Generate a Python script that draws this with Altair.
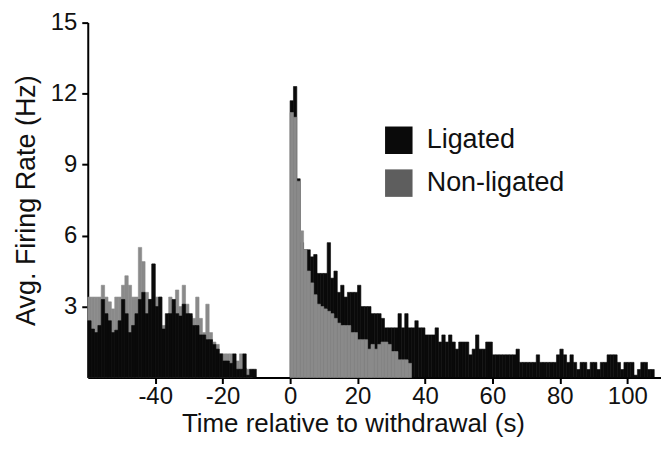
import altair as alt
import pandas as pd

# ---- data (1 s bins, left edges) ----
pre_time = list(range(-60, -9))  # -60 .. -10
pre_ligated = [2.4, 2.05, 1.9, 2.2, 3.3, 2.7, 2.4, 1.9, 2.0, 2.4,
               3.3, 2.7, 1.9, 2.2, 2.7, 3.3, 3.6, 2.7, 3.3, 4.8,
               3.0, 3.4, 2.05, 2.7, 2.7, 3.3, 2.7, 2.6, 3.1, 2.7,
               2.7, 2.2, 2.2, 1.8, 1.8, 1.6, 1.6, 1.4, 1.2, 1.0,
               0.7, 0.7, 0.6, 1.0, 0.35, 0.35, 1.0, 0.1, 0.35, 0.35,
               0.0]
pre_nonligated = [3.4, 3.4, 3.4, 3.4, 3.9, 3.4, 3.2, 2.9, 3.4, 3.4,
                  3.9, 4.3, 3.9, 3.4, 3.4, 5.5, 4.9, 3.6, 3.3, 4.8,
                  3.4, 3.4, 2.2, 2.2, 3.4, 3.0, 3.7, 3.0, 3.9, 3.1,
                  2.6, 2.5, 3.4, 2.5, 1.9, 3.1, 1.9, 1.5, 1.4, 1.0,
                  1.0, 1.0, 1.0, 0.7, 0.7, 1.0, 0.4, 0.35, 0.3, 0.0,
                  0.0]
post_time = list(range(0, 108))  # 0 .. 107
post_ligated = [11.7, 12.3, 8.4, 5.7, 5.4, 5.4, 5.1, 5.2, 4.4, 4.4,
                4.4, 5.7, 4.2, 4.5, 3.6, 3.9, 3.4, 3.6, 3.6, 3.6,
                3.9, 3.0, 3.0, 3.0, 2.7, 2.7, 2.7, 2.5, 2.1, 2.1,
                2.1, 2.1, 2.7, 2.1, 2.7, 2.1, 2.1, 2.4, 2.1, 2.1,
                1.8, 1.8, 1.8, 2.1, 1.5, 1.8, 1.5, 1.8, 1.5, 1.2,
                1.5, 1.5, 1.5, 0.96, 1.2, 1.8, 1.2, 1.2, 1.5, 1.5,
                0.96, 0.96, 0.96, 0.96, 0.96, 0.96, 0.96, 1.2, 0.64, 0.64,
                0.64, 0.64, 0.64, 0.96, 0.64, 0.64, 0.64, 0.64, 0.64, 0.96,
                1.2, 0.96, 0.64, 0.96, 0.64, 0.34, 0.64, 0.64, 0.34, 0.64,
                0.64, 0.34, 0.64, 0.64, 0.96, 0.96, 0.96, 0.64, 0.34, 0.64,
                0.64, 0.64, 0.1, 0.34, 0.64, 0.64, 0.34, 0.34]
post_nonligated = [11.2, 11.0, 8.3, 6.2, 5.4, 4.5, 4.0, 3.5, 3.1, 3.0,
                   2.9, 2.8, 2.7, 2.5, 2.3, 2.2, 2.2, 2.2, 1.9, 1.9,
                   1.6, 1.6, 1.6, 1.2, 1.4, 1.2, 1.4, 1.5, 1.5, 1.4,
                   1.1, 1.1, 0.75, 0.75, 0.75, 0.6]

series_names = ["Ligated", "Non-ligated"]
bar_colors = ["#0a0a0a", "#8a8a8a"]
legend_colors = ["#0a0a0a", "#5e5e5e"]
x_ticks = [-40, -20, 0, 20, 40, 60, 80, 100]
y_ticks = [3, 6, 9, 12, 15]

rows = []
for t, v in zip(pre_time, pre_ligated):
    rows.append({"t": t, "rate": v, "series": "Ligated"})
for t, v in zip(pre_time, pre_nonligated):
    rows.append({"t": t, "rate": v, "series": "Non-ligated"})
for t, v in zip(post_time, post_ligated):
    rows.append({"t": t, "rate": v, "series": "Ligated"})
for t, v in zip(post_time, post_nonligated):
    rows.append({"t": t, "rate": v, "series": "Non-ligated"})
df = pd.DataFrame(rows)
df = df[df["rate"] > 0]

FONT = "Liberation Sans"

base = alt.Chart(df).transform_calculate(
    t1="datum.t + 1",
    front="(datum.t < 0) == (datum.series == 'Ligated') ? 1 : 0",
)

x_enc = alt.X(
    "t:Q",
    scale=alt.Scale(domain=[-60, 110], nice=False, zero=False),
    axis=alt.Axis(values=x_ticks, labelExpr="'' + datum.value",
                  title="Time relative to withdrawal (s)", titleX=266),
)
y_enc = alt.Y(
    "rate:Q",
    scale=alt.Scale(domain=[0, 15], nice=False),
    axis=alt.Axis(values=y_ticks, title="Avg. Firing Rate (Hz)"),
)
bar_color = alt.Color(
    "series:N",
    scale=alt.Scale(domain=series_names, range=bar_colors),
    legend=None,
)
bar_stroke = alt.Stroke(
    "series:N",
    scale=alt.Scale(domain=series_names, range=bar_colors),
    legend=None,
)
legend_color = alt.Color(
    "series:N",
    scale=alt.Scale(domain=series_names, range=legend_colors),
    legend=alt.Legend(title=None, orient="none", legendX=298, legendY=104,
                      symbolType="square", symbolSize=760, symbolStrokeWidth=0,
                      symbolOpacity=1, labelFontSize=27, labelFont=FONT,
                      labelColor="#111", labelOffset=14, rowPadding=15,
                      padding=0),
)

back = base.transform_filter("datum.front == 0").mark_rect(strokeWidth=0.6).encode(
    x=x_enc, x2="t1:Q", y=y_enc, y2=alt.Y2(datum=0), color=bar_color,
    stroke=bar_stroke,
)
front = base.transform_filter("datum.front == 1").mark_rect(strokeWidth=0.6).encode(
    x=x_enc, x2="t1:Q", y=y_enc, y2=alt.Y2(datum=0), color=bar_color,
    stroke=bar_stroke,
)
legend_layer = alt.Chart(df).mark_square(filled=True, size=0).encode(
    x=x_enc, y=y_enc, color=legend_color
)

chart = alt.layer(back, front, legend_layer).resolve_scale(
    color="independent", stroke="independent"
).properties(
    width=575, height=356,
    autosize=alt.AutoSizeParams(type="none"),
    padding={"left": 80, "top": 14, "right": 0, "bottom": 63},
).configure_view(stroke=None).configure_axis(
    grid=False, domainColor="#000", domainWidth=2, tickColor="#000",
    tickWidth=2, tickSize=6, labelFont=FONT, titleFont=FONT,
    labelColor="#111", titleColor="#111", titleFontWeight="normal",
).configure_axisX(
    labelFontSize=24, titleFontSize=26, labelPadding=1, titlePadding=2,
).configure_axisY(
    labelFontSize=24, titleFontSize=27, labelPadding=5, titlePadding=10,
)

chart.save("out.html", embed_options={"renderer": "svg", "actions": False})
